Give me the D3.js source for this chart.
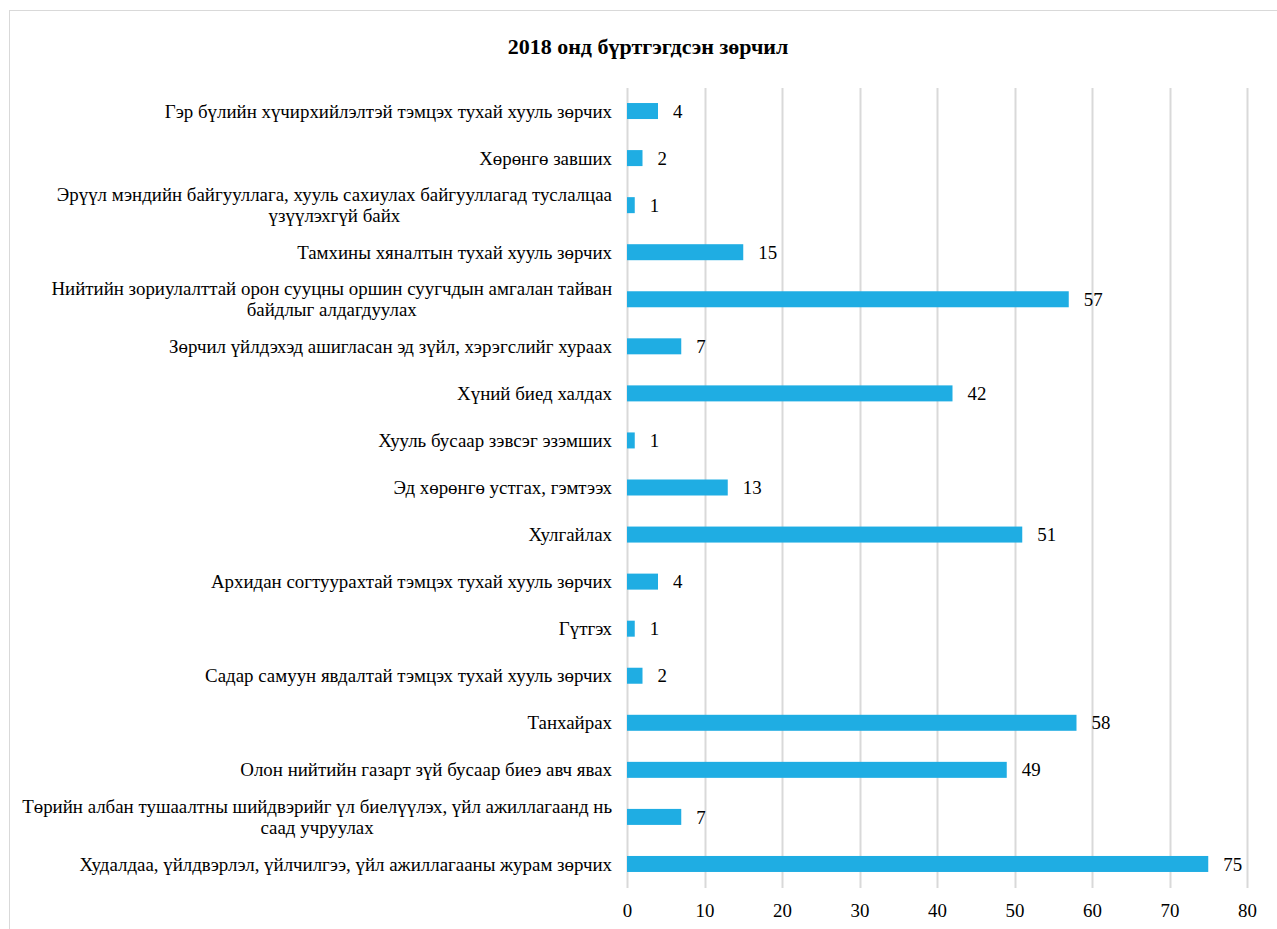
<!DOCTYPE html>
<html><head><meta charset="utf-8">
<script src="https://cdn.jsdelivr.net/npm/d3@7"></script>
<style>
html,body{margin:0;padding:0;background:#fff;}
svg text{font-family:"Liberation Serif","Times New Roman",serif;}
</style></head>
<body>
<svg id="chart" width="1277" height="929"></svg>
<script>
const title = "2018 онд бүртгэгдсэн зөрчил";
const categories = [
  ["Гэр бүлийн хүчирхийлэлтэй тэмцэх тухай хууль зөрчих"],
  ["Хөрөнгө завших"],
  ["Эрүүл мэндийн байгууллага, хууль сахиулах байгууллагад туслалцаа", "үзүүлэхгүй байх"],
  ["Тамхины хяналтын тухай хууль зөрчих"],
  ["Нийтийн зориулалттай орон сууцны оршин суугчдын амгалан тайван", "байдлыг алдагдуулах"],
  ["Зөрчил үйлдэхэд ашигласан эд зүйл, хэрэгслийг хураах"],
  ["Хүний биед халдах"],
  ["Хууль бусаар зэвсэг эзэмших"],
  ["Эд хөрөнгө устгах, гэмтээх"],
  ["Хулгайлах"],
  ["Архидан согтуурахтай тэмцэх тухай хууль зөрчих"],
  ["Гүтгэх"],
  ["Садар самуун явдалтай тэмцэх тухай хууль зөрчих"],
  ["Танхайрах"],
  ["Олон нийтийн газарт зүй бусаар биеэ авч явах"],
  ["Төрийн албан тушаалтны шийдвэрийг үл биелүүлэх, үйл ажиллагаанд нь", "саад учруулах"],
  ["Худалдаа, үйлдвэрлэл, үйлчилгээ, үйл ажиллагааны журам зөрчих"]
];
const values = [4, 2, 1, 15, 57, 7, 42, 1, 13, 51, 4, 1, 2, 58, 49, 7, 75];
const xTicks = [0, 10, 20, 30, 40, 50, 60, 70, 80];

const FS = "18.9px";
const svg = d3.select("#chart");

// chart area border (partially visible)
svg.append("line").attr("x1", 9.5).attr("x2", 9.5).attr("y1", 10).attr("y2", 929).attr("stroke", "#d9d9d9");
svg.append("line").attr("x1", 9).attr("x2", 1277).attr("y1", 10.5).attr("y2", 10.5).attr("stroke", "#d9d9d9");

const x = d3.scaleLinear().domain([0, 80]).range([627, 1247]);
const idx = d3.range(categories.length);
const y = d3.scaleBand().domain(idx).range([87.5, 887.5]).paddingInner(0.66).paddingOuter(0.33);

svg.append("text").attr("x", 648).attr("y", 54).attr("text-anchor", "middle")
  .attr("font-size", "22px").attr("font-weight", "bold").attr("fill", "#000").text(title);

// gridlines
svg.append("g").selectAll("line").data(xTicks).join("line")
  .attr("x1", d => Math.round(x(d)) + 0.5).attr("x2", d => Math.round(x(d)) + 0.5)
  .attr("y1", 88).attr("y2", 888).attr("stroke", "#d9d9d9").attr("stroke-width", 2);

// x axis labels
const xAxis = d3.axisBottom(x).tickValues(xTicks).tickSize(0).tickPadding(0);
const gx = svg.append("g").attr("transform", "translate(0,904)").call(xAxis);
gx.select(".domain").remove();
gx.selectAll("text").attr("font-size", FS).attr("fill", "#000").attr("dy", "0.71em")
  .style("font-family", '"Liberation Serif","Times New Roman",serif');

// bars
svg.append("g").selectAll("rect").data(idx).join("rect")
  .attr("x", x(0)).attr("y", i => y(i)).attr("width", i => x(values[i]) - x(0))
  .attr("height", y.bandwidth()).attr("fill", "#1fade3");

// value labels
svg.append("g").selectAll("text").data(idx).join("text")
  .attr("x", i => x(values[i]) + 15).attr("y", i => y(i) + y.bandwidth() / 2)
  .attr("dy", "0.35em").attr("font-size", FS).attr("fill", "#000")
  .text(i => values[i]);

// category labels
const lineH = 21;
const gl = svg.append("g");
idx.forEach(i => {
  const lines = categories[i];
  const cy = y(i) + y.bandwidth() / 2;
  if (lines.length === 1) {
    gl.append("text").attr("x", 612).attr("y", cy).attr("dy", "0.35em")
      .attr("text-anchor", "end").attr("font-size", FS).attr("fill", "#000").text(lines[0]);
  } else {
    const t = gl.append("text").attr("x", 612).attr("y", cy - lineH / 2).attr("dy", "0.35em")
      .attr("text-anchor", "end").attr("font-size", FS).attr("fill", "#000").text(lines[0]);
    const w = t.node().getComputedTextLength();
    gl.append("text").attr("x", 612 - w / 2).attr("y", cy + lineH / 2).attr("dy", "0.35em")
      .attr("text-anchor", "middle").attr("font-size", FS).attr("fill", "#000").text(lines[1]);
  }
});
</script>
</body></html>
